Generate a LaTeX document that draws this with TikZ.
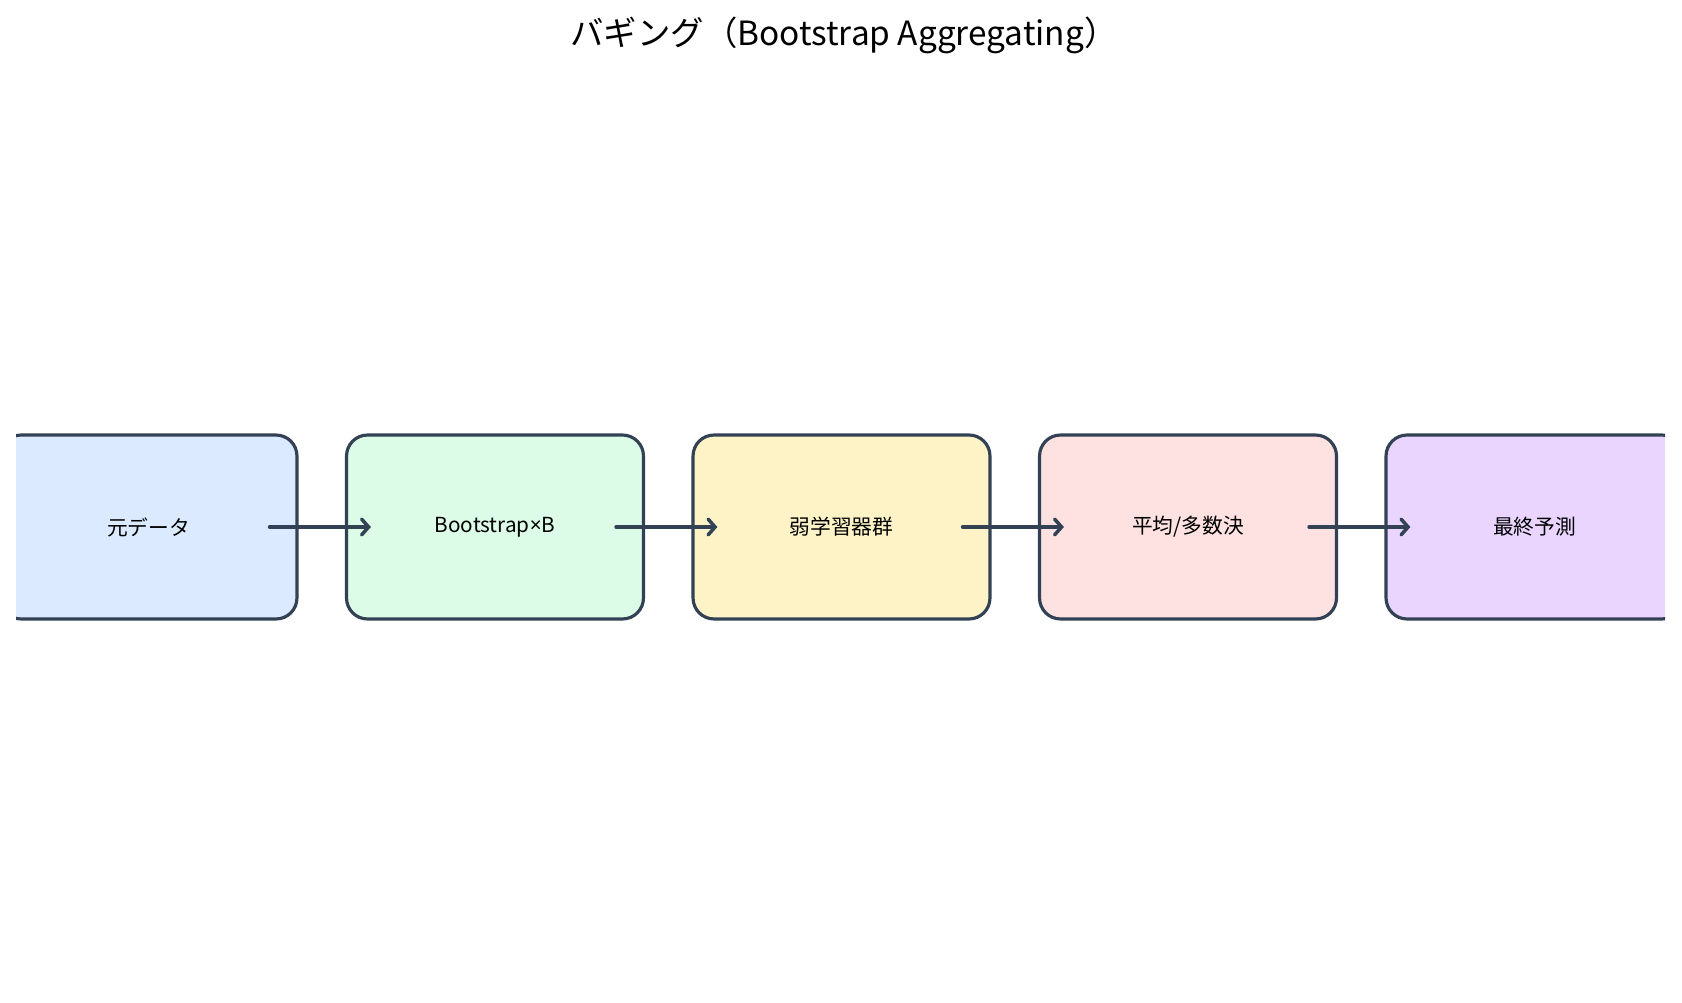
\documentclass[tikz,border=0pt]{standalone}
\usepackage{fontspec}
\setmainfont{Noto Sans CJK JP}
\newfontfamily\latinfont{Noto Sans}
\usetikzlibrary{arrows.meta}
\definecolor{edge}{HTML}{334155}
\definecolor{fillA}{HTML}{DBEAFE}
\definecolor{fillB}{HTML}{DCFCE7}
\definecolor{fillC}{HTML}{FEF3C7}
\definecolor{fillD}{HTML}{FEE2E2}
\definecolor{fillE}{HTML}{E9D5FF}

\begin{document}
\begin{tikzpicture}[x=0.02cm,y=-0.02cm,
  stage/.style={draw=edge,line width=1.8pt,rounded corners=0.42cm,minimum width=5.94cm,minimum height=3.68cm,font=\fontsize{11.8}{14}\selectfont},
  flow/.style={draw=edge,line width=2pt,line cap=round,-{Straight Barb[length=4pt,width=9pt,line cap=round]}}]
\useasboundingbox (0,0) rectangle (1682,1003);
\node (title) at (844,35) {\fontsize{19}{22}\selectfont バギング（Bootstrap Aggregating）};
\begin{scope}
\clip (16,0) rectangle (1665,1003);
\node [stage,fill=fillA] (data) at (148.5,527) {元データ};
\node [stage,fill=fillB] (boot) at (495,527) {Bootstrap{\latinfont ×}B};
\node [stage,fill=fillC] (weak) at (841.5,527) {弱学習器群};
\node [stage,fill=fillD] (vote) at (1188,527) {平均/多数決};
\node [stage,fill=fillE] (pred) at (1534.5,527) {最終予測};
\end{scope}
\draw [flow] ([xshift=-0.58cm]data.east) -- ([xshift=0.52cm]boot.west);
\draw [flow] ([xshift=-0.58cm]boot.east) -- ([xshift=0.52cm]weak.west);
\draw [flow] ([xshift=-0.58cm]weak.east) -- ([xshift=0.52cm]vote.west);
\draw [flow] ([xshift=-0.58cm]vote.east) -- ([xshift=0.52cm]pred.west);
\end{tikzpicture}
\end{document}
